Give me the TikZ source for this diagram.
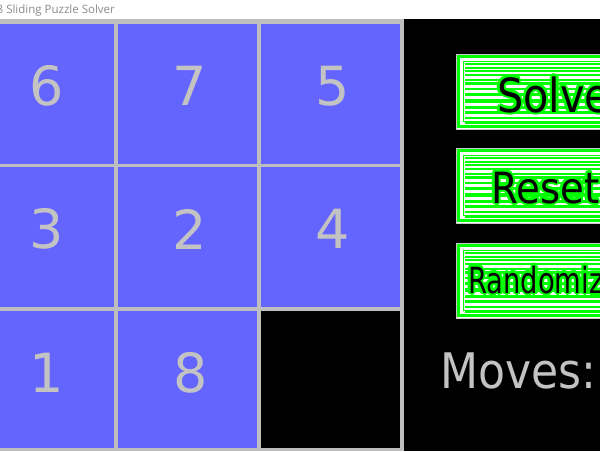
\documentclass[tikz,border=0pt]{standalone}
\usepackage{fontspec}
\setmainfont{DejaVu Sans}
\newfontfamily\titlefont{Open Sans}
\definecolor{tileblue}{RGB}{100,100,255}
\definecolor{gridgray}{RGB}{190,190,190}
\definecolor{digitgray}{RGB}{195,195,195}
\definecolor{btngreen}{RGB}{0,255,0}
\definecolor{titlegray}{RGB}{140,140,140}
\definecolor{btnedge}{RGB}{200,200,200}
\tikzset{
  tile/.style={fill=tileblue, draw=none, inner sep=0pt, minimum width=139pt},
  emptytile/.style={fill=black, draw=none, inner sep=0pt, minimum width=139pt},
  digit/.style={inner sep=0pt, text=digitgray, font=\fontsize{54}{56}\selectfont},
  btnframe/.style={draw=btnedge, fill=white, line width=1pt},
  stripe/.style={fill=btngreen, draw=none},
  btntext/.style={inner sep=0pt, anchor=base west},
}
\newcommand{\mybutton}[1]{%
  \node[btnframe, anchor=north west, minimum width=180pt, minimum height=75pt] (btn#1) at (456,\yt) {};
  \draw[btngreen, line width=2.5pt] (458.5,\yt+2.5) rectangle (640,\yt+72.5);
  \draw[btngreen, line width=1pt] (463,\yt+7.5) rectangle (640,\yt+67.5);
  \foreach \o/\w in {10/2.5,13.5/2,17/2,21/2.5,25.5/2,29.5/3,35/2,40.5/3,47/4,53.5/2.5,58.5/3,63.5/2,68.5/2.5}
    \fill[stripe] (465,\yt+\o-\w/2) rectangle (640,\yt+\o+\w/2);
}
\newcommand{\halotext}[6]{% name, x, y, size, xscale, text
  \foreach \dx/\dy [count=\k] in {-2.4/0,2.4/0,0/-2.4,0/2.4,-1.7/-1.7,1.7/1.7,-1.7/1.7,1.7/-1.7}
    \node[btntext, text=btngreen, font=\fontsize{#4}{#4}\selectfont] (#1h\k) at (#2+\dx,#3+\dy) {\scalebox{#5}[1]{#6}};
  \node[btntext, text=black, font=\fontsize{#4}{#4}\selectfont] (#1) at (#2,#3) {\scalebox{#5}[1]{#6}};
}
\begin{document}
\begin{tikzpicture}[x=1pt,y=-1pt]
\useasboundingbox (0,0) rectangle (600,451);
\clip (0,0) rectangle (600,451);
% title bar
\fill[white] (0,0) rectangle (600,19);
\node[anchor=base west, inner sep=0pt, text=titlegray, font=\titlefont\fontsize{11.5}{12}\selectfont] (title) at (-3.5,13.5) {8 Sliding Puzzle Solver};
% board background
\fill[gridgray] (0,19) rectangle (404,451);
\fill[black] (404,19) rectangle (600,451);
% tiles
\node[tile, minimum height=140pt] (t6) at (44.5,94) {};
\node[tile, minimum height=140pt] (t7) at (187.5,94) {};
\node[tile, minimum height=140pt] (t5) at (330.5,94) {};
\node[tile, minimum height=140pt] (t3) at (44.5,237) {};
\node[tile, minimum height=140pt] (t2) at (187.5,237) {};
\node[tile, minimum height=140pt] (t4) at (330.5,237) {};
\node[tile, minimum height=137pt] (t1) at (44.5,379.5) {};
\node[tile, minimum height=137pt] (t8) at (187.5,379.5) {};
\node[emptytile, minimum height=137pt] (t0) at (330.5,379.5) {};
% digits
\node[digit] (d6) at (47,86) {6};
\node[digit] (d7) at (190,86) {7};
\node[digit] (d5) at (333,86) {5};
\node[digit] (d3) at (47,229) {3};
\node[digit] (d2) at (190,229) {2};
\node[digit] (d4) at (333,229) {4};
\node[digit] (d1) at (47,373) {1};
\node[digit] (d8) at (190.5,373) {8};
% buttons
\def\yt{54}\mybutton{solve}
\def\yt{148}\mybutton{reset}
\def\yt{243}\mybutton{random}
\halotext{solvet}{497}{112}{47}{0.88}{Solve}
\halotext{resett}{491}{203}{43}{0.9}{Reset}
\halotext{randomt}{468}{293}{36}{0.76}{Randomize}
% moves
\node[btntext, text=digitgray, font=\fontsize{49}{50}\selectfont] (moves) at (440,388) {\scalebox{0.9}[1]{Moves:}};
\end{tikzpicture}
\end{document}
